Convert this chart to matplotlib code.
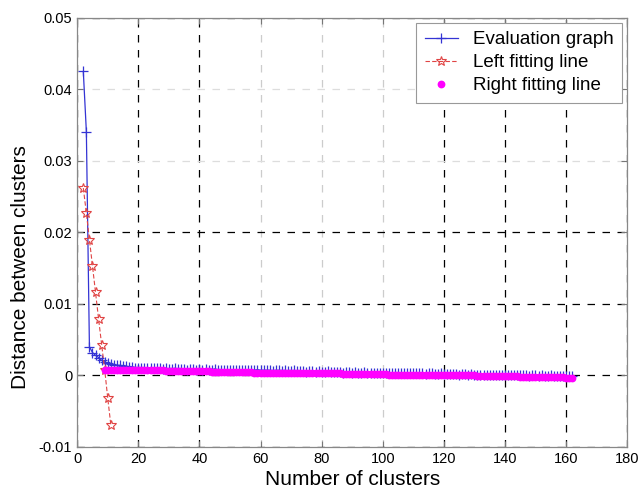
import numpy as np
from matplotlib import pyplot as plt

plt.rcParams['font.family'] = ['Liberation Sans', 'DejaVu Sans']

# evaluation graph, clusters 2..162
eval_x = np.arange(2, 163)
eval_y = [0.0425, 0.0341, 0.0040, 0.0032, 0.0028, 0.0025, 0.0021, 0.0019, 0.0017, 0.0016,
          0.0015, 0.0014, 0.0014, 0.0013, 0.0013, 0.0012, 0.0012, 0.0011, 0.0011,
          # 21..40
          0.0011, 0.0011, 0.0010, 0.0011, 0.0010, 0.0010, 0.0010, 0.0009, 0.0010, 0.0009,
          0.0009, 0.0010, 0.0009, 0.0009, 0.0009, 0.0008, 0.0009, 0.0009, 0.0008, 0.0009,
          # 41..60
          0.0008, 0.0009, 0.0008, 0.0008, 0.0009, 0.0008, 0.0008, 0.0008, 0.0007, 0.0008,
          0.0008, 0.0008, 0.0007, 0.0008, 0.0007, 0.0008, 0.0007, 0.0007, 0.0008, 0.0007,
          # 61..80
          0.0007, 0.0007, 0.0007, 0.0006, 0.0007, 0.0007, 0.0006, 0.0007, 0.0006, 0.0006,
          0.0007, 0.0006, 0.0006, 0.0006, 0.0005, 0.0006, 0.0006, 0.0005, 0.0006, 0.0005,
          # 81..100
          0.0005, 0.0006, 0.0005, 0.0005, 0.0005, 0.0005, 0.0004, 0.0005, 0.0005, 0.0004,
          0.0005, 0.0004, 0.0004, 0.0005, 0.0004, 0.0004, 0.0004, 0.0003, 0.0004, 0.0004,
          # 101..120
          0.0004, 0.0004, 0.0003, 0.0004, 0.0004, 0.0003, 0.0004, 0.0003, 0.0003, 0.0003,
          0.0003, 0.0003, 0.0003, 0.0002, 0.0003, 0.0003, 0.0002, 0.0002, 0.0003, 0.0002,
          # 121..140
          0.0002, 0.0002, 0.0002, 0.0002, 0.0001, 0.0002, 0.0002, 0.0001, 0.0002, 0.0001,
          0.0001, 0.0001, 0.0001, 0.0001, 0.0001, 0.0000, 0.0001, 0.0001, 0.0000, 0.0001,
          # 141..162
          0.0000, 0.0000, 0.0001, 0.0000, 0.0000, 0.0000, 0.0000, -0.0001, 0.0000, 0.0000,
          -0.0001, 0.0000, -0.0001, -0.0001, 0.0000, -0.0001, -0.0001, -0.0001, -0.0001, -0.0001,
          -0.0001, -0.0001]

# left fitting line, clusters 2..11
left_x = np.arange(2, 12)
left_y = [0.0262, 0.0227, 0.0190, 0.0153, 0.0116, 0.0079, 0.0043, 0.0008, -0.0032, -0.0069]

# right fitting line, clusters 9..162
right_x = np.arange(9, 163)
right_y = [0.0008, 0.0008, 0.0008, 0.0008, 0.0008, 0.0008,
           0.0007, 0.0007, 0.0007, 0.0007, 0.0007, 0.0007, 0.0007, 0.0007, 0.0007, 0.0007, 0.0007, 0.0007, 0.0007, 0.0007,
           0.0006, 0.0006, 0.0006, 0.0006, 0.0006, 0.0006, 0.0006, 0.0006, 0.0006, 0.0006, 0.0006, 0.0006, 0.0006, 0.0006, 0.0006,
           0.0005, 0.0005, 0.0005, 0.0005, 0.0005, 0.0005, 0.0005, 0.0005, 0.0005, 0.0005, 0.0005, 0.0005, 0.0005, 0.0005,
           0.0004, 0.0004, 0.0004, 0.0004, 0.0004, 0.0004, 0.0004, 0.0004, 0.0004, 0.0004, 0.0004, 0.0004, 0.0004, 0.0004, 0.0004,
           0.0003, 0.0003, 0.0003, 0.0003, 0.0003, 0.0003, 0.0003, 0.0003, 0.0003, 0.0003, 0.0003, 0.0003, 0.0003, 0.0003,
           0.0002, 0.0002, 0.0002, 0.0002, 0.0002, 0.0002, 0.0002, 0.0002, 0.0002, 0.0002, 0.0002, 0.0002, 0.0002, 0.0002, 0.0002,
           0.0001, 0.0001, 0.0001, 0.0001, 0.0001, 0.0001, 0.0001, 0.0001, 0.0001, 0.0001, 0.0001, 0.0001, 0.0001, 0.0001,
           0.0000, 0.0000, 0.0000, 0.0000, 0.0000, 0.0000, 0.0000, 0.0000, 0.0000, 0.0000, 0.0000, 0.0000, 0.0000, 0.0000, 0.0000,
           -0.0001, -0.0001, -0.0001, -0.0001, -0.0001, -0.0001, -0.0001, -0.0001, -0.0001, -0.0001, -0.0001, -0.0001, -0.0001, -0.0001,
           -0.0002, -0.0002, -0.0002, -0.0002, -0.0002, -0.0002, -0.0002, -0.0002, -0.0002, -0.0002, -0.0002, -0.0002, -0.0002, -0.0002, -0.0002,
           -0.0003, -0.0003, -0.0003]

x_ticks = [0, 20, 40, 60, 80, 100, 120, 140, 160, 180]
y_ticks = [-0.01, 0, 0.01, 0.02, 0.03, 0.04, 0.05]

fig = plt.figure(figsize=(6.38, 4.96), dpi=100)
ax = fig.add_axes([0.121, 0.099, 0.862, 0.865])

ax.plot(eval_x, eval_y, '-', color='#3434d4', lw=0.9, marker='+', ms=7, mew=0.9,
        label='Evaluation graph')
ax.plot(left_x, left_y, '--', color='#e04444', lw=0.8, dashes=(4, 2), marker='*', ms=7.5,
        mfc='none', mew=0.8, label='Left fitting line')
ax.plot(right_x, right_y, 'o', color='#ff00ff', ms=4.6, mec='#ff00ff',
        label='Right fitting line')

ax.set_xlim(0, 180)
ax.set_ylim(-0.01, 0.05)
ax.set_xticks(x_ticks)
ax.set_yticks(y_ticks)
ax.set_yticklabels(['-0.01', '0', '0.01', '0.02', '0.03', '0.04', '0.05'])
ax.tick_params(direction='in', top=True, right=True, labelsize=10.5, length=4,
               color='#777777')
for s in ax.spines.values():
    s.set_color('#888888')
    s.set_linewidth(0.9)

ax.grid(True, color='black', linestyle=(0, (6, 6)), linewidth=0.9)
ax.set_axisbelow(True)
# some grid lines come out faint in the original
for i, line in enumerate(ax.xaxis.get_gridlines()):
    if x_ticks[i] in (60, 80, 100):
        line.set_color('#cccccc')
for i, line in enumerate(ax.yaxis.get_gridlines()):
    if y_ticks[i] in (0.03, 0.04):
        line.set_color('#dddddd')

ax.set_xlabel('Number of clusters', fontsize=15, labelpad=3)
ax.set_ylabel('Distance between clusters', fontsize=15, labelpad=4)
ax.yaxis.set_label_coords(-0.085, 0.42)

leg = ax.legend(loc='upper right', fontsize=13.5, frameon=True, fancybox=False,
                edgecolor='#999999', framealpha=1, handlelength=1.8,
                handletextpad=0.8, borderaxespad=0.25, labelspacing=0.32,
                borderpad=0.45)
leg.get_frame().set_linewidth(0.8)

plt.savefig('out.png')
